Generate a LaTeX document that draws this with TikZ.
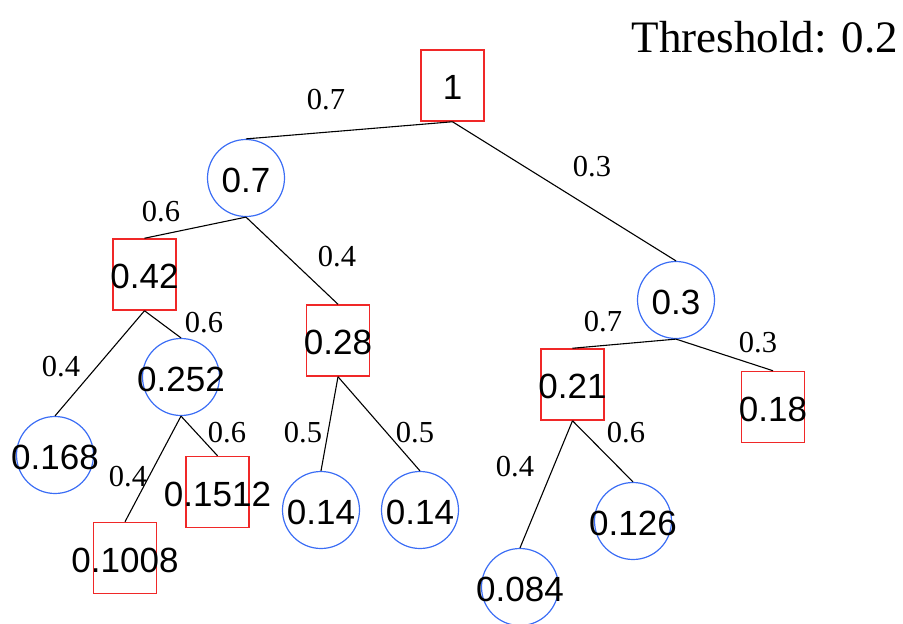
\documentclass[tikz,border=0pt]{standalone}
\usepackage{fontspec}
\setmainfont{Liberation Serif}
\setsansfont{Liberation Sans}
\definecolor{figR}{RGB}{240,40,40}
\definecolor{figB}{RGB}{60,110,245}
\tikzset{
  sq/.style={draw=figR,line width=1.5pt,minimum width=63pt,minimum height=71pt,inner sep=0pt},
  cc/.style={draw=figB,line width=1.2pt,circle,minimum size=77pt,inner sep=0pt},
  val/.style={font=\fontsize{35}{37}\sffamily,inner sep=0pt,yshift=-2pt},
  prob/.style={font=\fontsize{30.5}{32}\selectfont,inner sep=0pt},
  edge/.style={line width=1.1pt}
}

\begin{document}
\begin{tikzpicture}[x=1pt,y=-1pt]
\useasboundingbox (0,0) rectangle (903,624);
\node[anchor=base,inner sep=0pt,font=\fontsize{45}{50}\selectfont] (thr) at (765,52) {Threshold: 0.2};
% nodes
\node[sq,label={[val]center:1}] (n1) at (452.5,85.5) {};
\node[cc,label={[val]center:0.7}] (n07) at (246,178) {};
\node[cc,label={[val]center:0.3}] (n03) at (676,300) {};
\node[sq,label={[val]center:0.42}] (n042) at (144.5,274.5) {};
\node[sq,label={[val]center:0.28}] (n028) at (338,340.5) {};
\node[cc,label={[val]center:0.168}] (n0168) at (55,455) {};
\node[cc,label={[val]center:0.252}] (n0252) at (181,377) {};
\node[sq,label={[val]center:0.1008}] (n01008) at (125,558) {};
\node[sq,label={[val]center:0.1512}] (n01512) at (217.5,492) {};
\node[cc,label={[val]center:0.14}] (n014a) at (321,510) {};
\node[cc,label={[val]center:0.14}] (n014b) at (420,510) {};
\node[sq,label={[val]center:0.21}] (n021) at (572.5,384.5) {};
\node[sq,label={[val]center:0.18}] (n018) at (773,407) {};
\node[cc,label={[val]center:0.084}] (n0084) at (520,587) {};
\node[cc,label={[val]center:0.126}] (n0126) at (633,521) {};
% branches
\draw[edge] (n1.south)--(n07.north); \draw[edge] (n1.south)--(n03.north);
\draw[edge] (n07.south)--(n042.north); \draw[edge] (n07.south)--(n028.north);
\draw[edge] (n042.south)--(n0168.north); \draw[edge] (n042.south)--(n0252.north);
\draw[edge] (n0252.south)--(n01008.north); \draw[edge] (n0252.south)--(n01512.north);
\draw[edge] (n028.south)--(n014a.north); \draw[edge] (n028.south)--(n014b.north);
\draw[edge] (n03.south)--(n021.north); \draw[edge] (n03.south)--(n018.north);
\draw[edge] (n021.south)--(n0084.north); \draw[edge] (n021.south)--(n0126.north);
% probabilities
\node[prob] (p1) at (326,100) {0.7};
\node[prob] (p2) at (592,167) {0.3};
\node[prob] (p3) at (161,212) {0.6};
\node[prob] (p4) at (337,257) {0.4};
\node[prob] (p5) at (61,367) {0.4};
\node[prob] (p6) at (204,323) {0.6};
\node[prob] (p7) at (128,477) {0.4};
\node[prob] (p8) at (227,433) {0.6};
\node[prob] (p9) at (303,433) {0.5};
\node[prob] (p10) at (415,433) {0.5};
\node[prob] (p11) at (603,322) {0.7};
\node[prob] (p12) at (758,343) {0.3};
\node[prob] (p13) at (515,467) {0.4};
\node[prob] (p14) at (626,433) {0.6};
\end{tikzpicture}
\end{document}
